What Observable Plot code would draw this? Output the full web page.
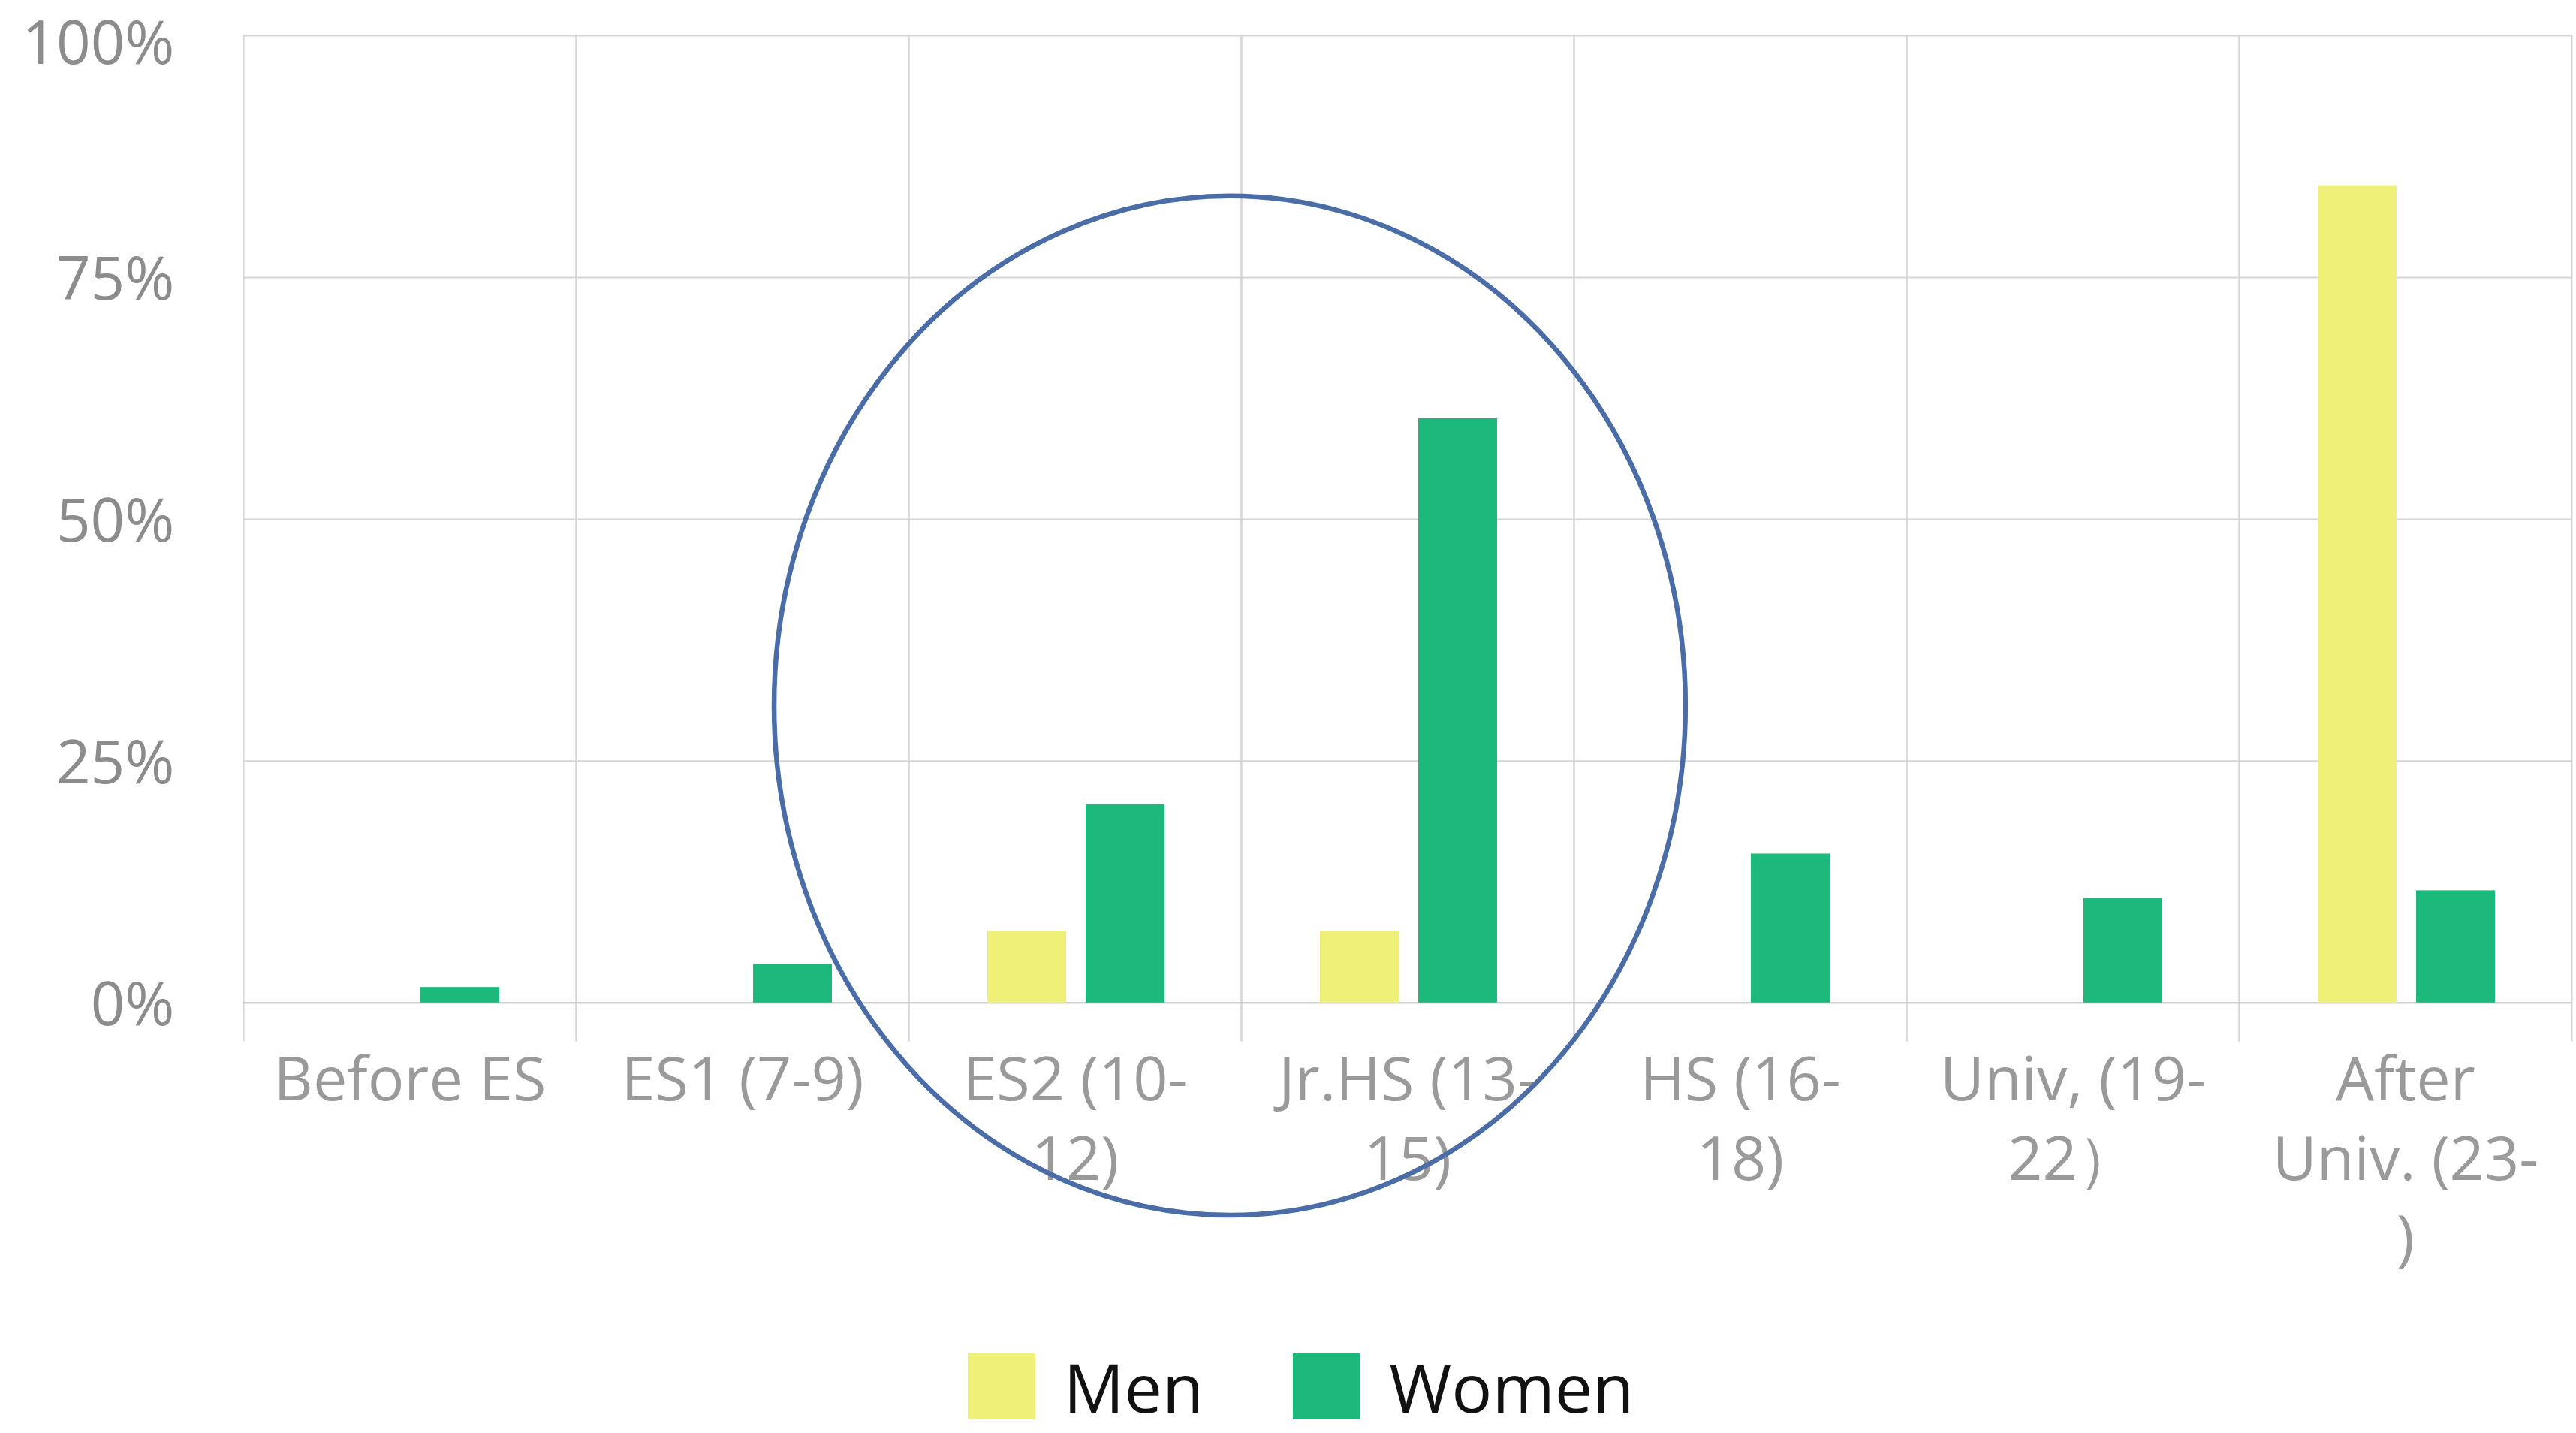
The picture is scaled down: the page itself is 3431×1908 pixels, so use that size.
<!DOCTYPE html>
<html><head><meta charset="utf-8">
<script src="https://cdn.jsdelivr.net/npm/d3@7"></script>
<script src="https://cdn.jsdelivr.net/npm/@observablehq/plot@0.6"></script>
<style>
html,body{margin:0;padding:0;background:#fff;}
body{width:3431px;height:1908px;overflow:hidden;font-family:"Open Sans",sans-serif;}
#legend{display:flex;justify-content:center;align-items:center;margin-top:42px;padding-left:34px;font-size:90px;line-height:88px;color:#111;}
.item{display:flex;align-items:center;}
.sw{width:90px;height:88px;margin-right:38px;}
.item + .item{margin-left:119px;}
</style></head><body>
<div id="chart"></div><div id="legend"></div>
<script>
const categories = ["Before ES","ES1 (7-9)","ES2 (10-12)","Jr.HS (13-15)","HS (16-18)","Univ, (19-22）","After Univ. (23-)"];
const tickLabels = ["Before ES","ES1 (7-9)","ES2 (10-\n12)","Jr.HS (13-\n15)","HS (16-\n18)","Univ, (19-\n22）","After\nUniv. (23-\n)"];
const series = ["Men","Women"];
const menValues = [0,0,7.4,7.4,0,0,84.5];
const womenValues = [1.6,4.0,20.5,60.4,15.4,10.8,11.6];
const seriesColors = ["#EEF077","#1DB87B"];
const yTicks = [0,25,50,75,100];
// annotation ellipse (in data terms): centred near the ES2 / Jr.HS boundary
const ellipseBoundaryCategory = "Jr.HS (13-15)";
const ellipseCenterY = 30.7, ellipseRadiusY = 52.7; // percent units
const ellipseCenterShiftBands = -0.034, ellipseRadiusXBands = 1.37;

const data = categories.flatMap((c,i)=>[
  {category:c, series:series[0], value:menValues[i]},
  {category:c, series:series[1], value:womenValues[i]}
]);

const grid = "#d6d6d6";
const yAxisStyle = {tickSize:0, tickPadding:92, tickFormat:d=>d+"%", fontSize:80, fill:"#8c8c8c", label:null};
const topTick = yTicks.slice(-1), otherTicks = yTicks.slice(0,-1);
const chart = Plot.plot({
  width:3431, height:1760,
  marginLeft:322, marginRight:4, marginTop:47, marginBottom:375,
  style:{fontFamily:'"Open Sans", sans-serif', background:"#fff", overflow:"visible"},
  fx:{domain:categories, padding:0, label:null},
  x:{domain:series, paddingInner:0.197, paddingOuter:0.779, align:0.51, axis:null, label:null},
  y:{domain:[-3.9,100], label:null},
  color:{domain:series, range:seriesColors},
  marks:[
    Plot.gridY(yTicks,{stroke:grid, strokeOpacity:1, strokeWidth:2}),
    Plot.frame({anchor:"left", stroke:grid, strokeOpacity:1, strokeWidth:2}),
    Plot.frame({anchor:"right", stroke:grid, strokeOpacity:1, strokeWidth:2}),
    Plot.ruleY([0],{stroke:"#cacaca", strokeWidth:2}),
    Plot.barY(data,{fx:"category", x:"series", y:"value", fill:"series"}),
    Plot.axisY(otherTicks,{...yAxisStyle, dy:4}),
    Plot.axisY(topTick,{...yAxisStyle, dy:12}),
    Plot.axisFx({anchor:"bottom", tickSize:0, tickPadding:5, fontSize:81, lineHeight:1.3, fill:"#9a9a9a", label:null,
      letterSpacing:"1.5px",
      tickFormat:c=>tickLabels[categories.indexOf(c)]})
  ]
});
document.getElementById("chart").appendChild(chart);

// ellipse annotation positioned through the chart's own scales
const fxs = chart.scale("fx"), ys = chart.scale("y");
const bw = fxs.bandwidth ?? (fxs.range[1]-fxs.range[0])/categories.length;
const cx = fxs.apply(ellipseBoundaryCategory) + ellipseCenterShiftBands*bw;
const rx = ellipseRadiusXBands*bw;
const cy = ys.apply(ellipseCenterY);
const ry = ys.apply(0) - ys.apply(ellipseRadiusY);
d3.select(chart).append("ellipse")
  .attr("cx",cx).attr("cy",cy).attr("rx",rx).attr("ry",ry)
  .attr("fill","none").attr("stroke","#4a6da7").attr("stroke-width",6.5);

// legend
const legend = d3.select("#legend");
series.forEach((s,i)=>{
  const it = legend.append("div").attr("class","item");
  it.append("div").attr("class","sw").style("background",seriesColors[i]);
  it.append("span").text(s);
});
</script>
</body></html>
